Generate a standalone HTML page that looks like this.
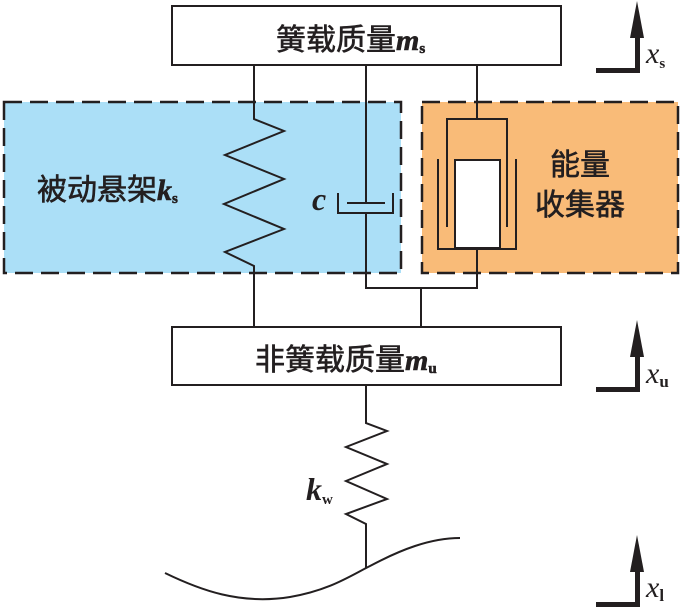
<!DOCTYPE html>
<html><head><meta charset="utf-8"><style>
html,body{margin:0;padding:0;background:#fff;}
svg text{font-family:"Liberation Serif","Noto Serif CJK SC",serif;}
.cn{font-family:"Liberation Serif","Noto Sans CJK SC",sans-serif;font-size:30px;fill:#231f20;stroke:#231f20;stroke-width:0.6;}
</style></head><body>
<svg width="684" height="609" viewBox="0 0 684 609" xmlns="http://www.w3.org/2000/svg">
<rect x="4" y="102" width="397" height="171" fill="#abdff7" stroke="#231f20" stroke-width="2.5" stroke-dasharray="18,8"/>
<rect x="422" y="102" width="256" height="171" fill="#f9bb78" stroke="#231f20" stroke-width="2.5" stroke-dasharray="18,8"/>
<g fill="none" stroke="#231f20" stroke-width="2">
<rect x="172" y="6" width="389" height="59" fill="#fff"/>
<rect x="172" y="327" width="389" height="58" fill="#fff"/>
<polyline points="254,65 254,119 284,131 225,155 284,179 224,204 284,229 225,252 254,266 254,327"/>
<line x1="366" y1="65" x2="366" y2="203"/>
<polyline points="338,193 338,213 393,213 393,193"/>
<line x1="347" y1="203" x2="385" y2="203"/>
<polyline points="366,213 366,288 477,288 477,249"/>
<line x1="421" y1="288" x2="421" y2="327"/>
<line x1="477" y1="65" x2="477" y2="119"/>
<polyline points="447,227 447,119 507,119 507,227"/>
<rect x="455" y="160" width="45" height="88" fill="#fff"/>
<polyline points="438,159 438,249 516,249 516,159"/>
<polyline points="366,385 366,423 387,431 346,447 387,464 346,481 387,499 346,514 366,524 366,568"/>
<path d="M165,573 C200,590 240,605 290,597 C330,590 350,576 370,566 C400,550 430,538 460,538"/>
</g>
<g fill="#231f20">
<polygon points="637,1 630,38 644,38"/><rect x="635" y="36" width="5" height="37"/><rect x="596" y="68" width="44" height="5"/>
<polygon points="637,320 630,357 644,357"/><rect x="635" y="355" width="5" height="37"/><rect x="596" y="387" width="44" height="5"/>
<polygon points="637,535 630,572 644,572"/><rect x="635" y="570" width="5" height="37"/><rect x="596" y="602" width="44" height="5"/>
</g>
<text x="276" y="50" class="cn">簧载质量<tspan font-family="Liberation Serif" font-style="italic" font-weight="bold">m</tspan><tspan font-family="Liberation Serif" font-size="15" font-weight="bold" dy="3">s</tspan></text>
<text x="255" y="370" class="cn">非簧载质量<tspan font-family="Liberation Serif" font-style="italic" font-weight="bold">m</tspan><tspan font-family="Liberation Serif" font-size="15" font-weight="bold" dy="3">u</tspan></text>
<text x="37" y="200" class="cn">被动悬架<tspan font-family="Liberation Serif" font-style="italic" font-weight="bold">k</tspan><tspan font-family="Liberation Serif" font-size="15" font-weight="bold" dy="3">s</tspan></text>
<text x="550" y="175" class="cn">能量</text>
<text x="535" y="215" class="cn">收集器</text>
<text x="312" y="210" font-size="32" font-style="italic" font-weight="bold" fill="#231f20">c</text>
<text x="306" y="500" font-size="32" font-style="italic" font-weight="bold" fill="#231f20">k<tspan font-size="15" font-style="normal" dy="4">w</tspan></text>
<text x="646" y="63" font-size="30" font-style="italic" fill="#231f20">x<tspan font-size="15" font-style="normal" font-weight="bold" dy="5">s</tspan></text>
<text x="646" y="383" font-size="30" font-style="italic" fill="#231f20">x<tspan font-size="17" font-style="normal" font-weight="bold" dy="4">u</tspan></text>
<text x="646" y="597" font-size="30" font-style="italic" fill="#231f20">x<tspan font-size="17" font-style="normal" font-weight="bold" dy="4">l</tspan></text>
</svg>
</body></html>
